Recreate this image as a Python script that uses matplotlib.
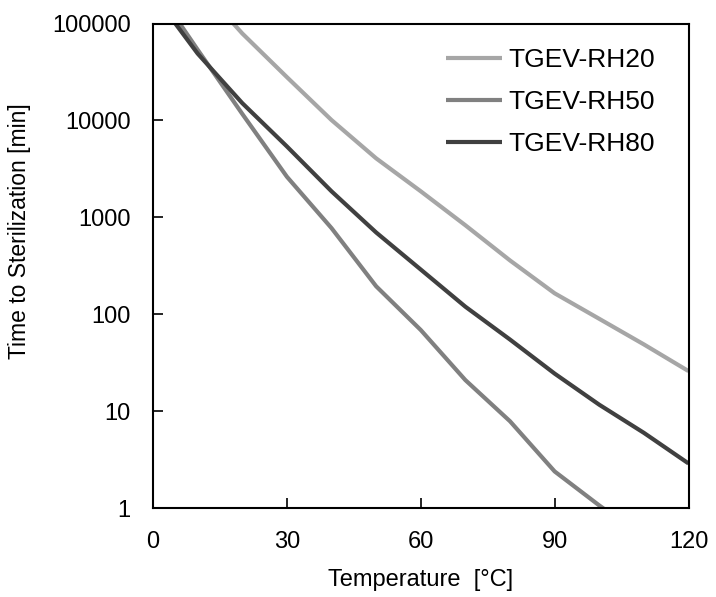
import matplotlib
matplotlib.use("Agg")
import matplotlib.pyplot as plt

# Data
t_rh20 = [18, 20, 30, 40, 50, 60, 70, 80, 90, 100, 110, 120]
v_rh20 = [100000, 79000, 28000, 10100, 4070, 1860, 830, 360, 165, 90, 49, 26]

t_rh50 = [6, 10, 20, 30, 40, 50, 60, 70, 80, 90, 100, 110]
v_rh50 = [100000, 53700, 11700, 2630, 776, 195, 69, 21, 7.9, 2.4, 1.07, 0.5]

t_rh80 = [5, 10, 20, 30, 40, 50, 60, 70, 80, 90, 100, 110, 120]
v_rh80 = [100000, 49000, 15100, 5400, 1860, 700, 290, 120, 55, 24.5, 11.7, 6.0, 2.9]

labels = ["TGEV-RH20", "TGEV-RH50", "TGEV-RH80"]
colors = ["#A6A6A6", "#808080", "#404040"]
x_ticks = [0, 30, 60, 90, 120]
y_ticks = [1, 10, 100, 1000, 10000, 100000]
y_ticklabels = ["1", "10", "100", "1000", "10000", "100000"]

plt.rcParams["font.family"] = ["Liberation Sans", "DejaVu Sans"]

fig = plt.figure(figsize=(7.16, 5.97), dpi=100)
ax = fig.add_axes([0.2137, 0.1486, 0.7479, 0.8120])

series = [(t_rh20, v_rh20), (t_rh50, v_rh50), (t_rh80, v_rh80)]
for (t, v), lab, c in zip(series, labels, colors):
    ax.plot(t, v, color=c, lw=3, label=lab, solid_capstyle="butt", solid_joinstyle="round")

ax.set_yscale("log")
ax.set_xlim(0, 120)
ax.set_ylim(1, 100000)
ax.set_xticks(x_ticks)
ax.set_xticklabels([str(x) for x in x_ticks])
ax.set_yticks(y_ticks)
ax.set_yticklabels(y_ticklabels)
ax.minorticks_off()
ax.tick_params(axis="both", direction="in", length=7, width=1.2, labelsize=17, pad=16, colors="black")
for s in ax.spines.values():
    s.set_linewidth(1.5)

ax.set_xlabel("Temperature  [°C]", fontsize=17, labelpad=12)
ax.set_ylabel("Time to Sterilization [min]", fontsize=16.5)
ax.yaxis.set_label_coords(-0.228, 0.572)

leg = ax.legend(loc="upper left", bbox_to_anchor=(0.548, 0.950), frameon=False,
                fontsize=19, handlelength=2.1, handletextpad=0.25,
                labelspacing=0.69, borderpad=0, borderaxespad=0)

fig.savefig("out.png", dpi=100)
